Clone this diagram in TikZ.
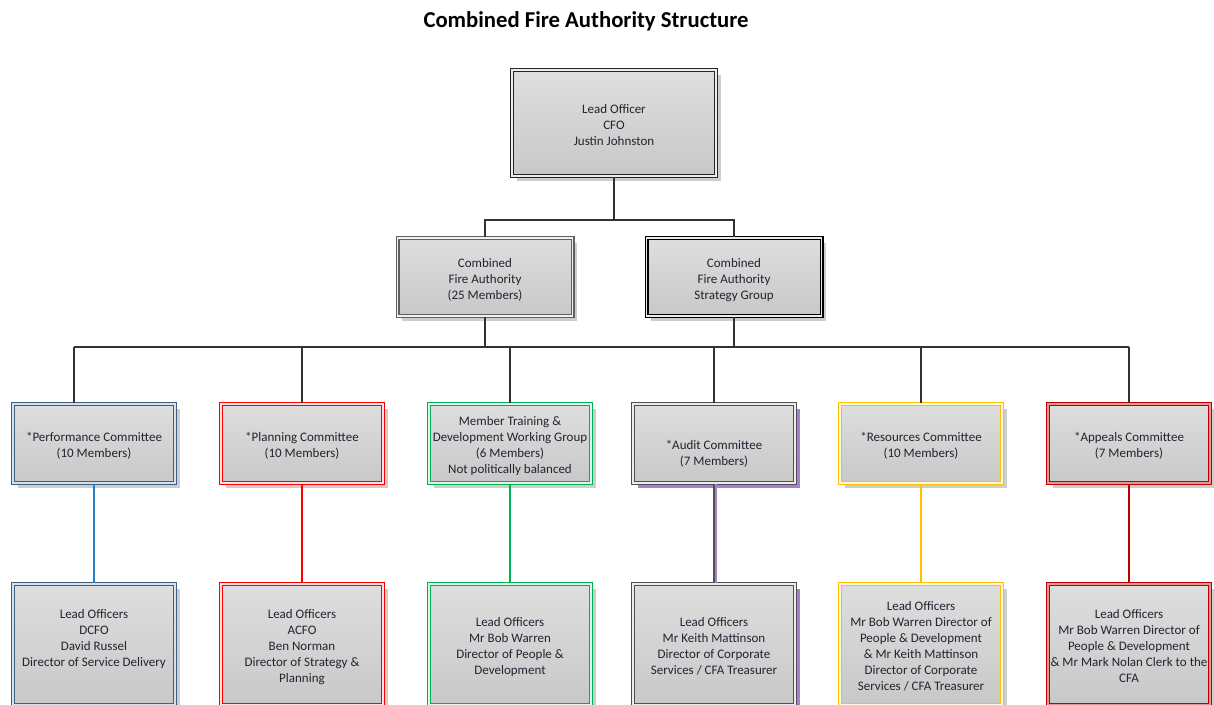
\documentclass[tikz,border=0pt]{standalone}
\usepackage{fontspec}
\setmainfont{Carlito}
\usetikzlibrary{shadows}
\definecolor{txt}{RGB}{35,35,50}
\definecolor{boxtop}{RGB}{222,222,222}
\definecolor{boxbot}{RGB}{200,200,200}
\definecolor{shad}{RGB}{205,205,205}
\definecolor{conncol}{RGB}{50,50,50}
\definecolor{perfb}{RGB}{62,95,132}
\definecolor{perfl}{RGB}{40,128,200}
\definecolor{planr}{RGB}{255,0,0}
\definecolor{trgreen}{RGB}{0,176,80}
\definecolor{auditg}{RGB}{80,80,80}
\definecolor{auditp}{RGB}{168,128,210}
\definecolor{resy}{RGB}{255,192,0}
\definecolor{appr}{RGB}{192,0,0}
\definecolor{appgap}{RGB}{228,150,150}
\newcommand\btxt[1]{\raisebox{-3pt}[\height][\depth]{\begin{tabular}{@{}c@{}}#1\end{tabular}}}
\tikzset{
  obox/.style n args={3}{draw=#1, double=#2, line width=1.1pt, double distance=1.8pt,
    general shadow={fill=#3, shadow xshift=4.5pt, shadow yshift=-4.5pt},
    top color=boxtop, bottom color=boxbot, inner sep=0pt,
    font=\fontsize{13}{16}\selectfont, text=txt},
  conn/.style={draw=conncol, line width=2pt},
  colconn/.style={draw=#1, line width=2pt},
}
\begin{document}
\begin{tikzpicture}[x=1pt,y=-1pt]
\useasboundingbox[fill=white] (0,0) rectangle (1214,704);
\node[font=\fontsize{22.7}{26}\selectfont\bfseries, text=black] (title) at (586,21) {Combined Fire Authority Structure};
% top
\node[obox={black!85}{gray!15}{shad}, minimum width=204pt, minimum height=106pt] (top) at (614,123) {\btxt{Lead Officer\\CFO\\Justin Johnston}};
\node[obox={gray!75!black}{gray!12}{shad}, minimum width=175pt, minimum height=78pt] (cfa) at (485,277) {\btxt{Combined\\Fire Authority\\(25 Members)}};
\node[obox={black}{gray!15}{shad}, minimum width=175pt, minimum height=78pt] (sg) at (734,277) {\btxt{Combined\\Fire Authority\\Strategy Group}};
% committees
\node[obox={perfb}{perfb!20}{shad}, minimum width=162pt, minimum height=79pt] (c1) at (94,443.5) {\btxt{*Performance Committee\\(10 Members)}};
\node[obox={planr}{planr!12}{shad}, minimum width=162pt, minimum height=79pt] (c2) at (302,443.5) {\btxt{*Planning Committee\\(10 Members)}};
\node[obox={trgreen}{trgreen!12}{shad}, minimum width=162pt, minimum height=79pt] (c3) at (510,443.5) {\btxt{Member Training \&\\Development Working Group\\(6 Members)\\Not politically balanced}};
\node[obox={auditg}{gray!15}{auditp}, minimum width=162pt, minimum height=79pt] (c4) at (714,443.5) {\btxt{\mbox{}\\ {*}Audit Committee\\(7 Members)}};
\node[obox={resy}{resy!12}{shad}, minimum width=162pt, minimum height=79pt] (c5) at (921,443.5) {\btxt{*Resources Committee\\(10 Members)}};
\node[obox={appr}{appgap}{shad}, minimum width=162pt, minimum height=79pt] (c6) at (1129,443.5) {\btxt{*Appeals Committee\\(7 Members)}};
% lead officers
\node[obox={perfb}{perfb!20}{shad}, minimum width=162pt, minimum height=121pt] (l1) at (94,644.5) {\btxt{Lead Officers\\DCFO\\David Russel\\Director of Service Delivery\\ \mbox{}}};
\node[obox={planr}{planr!12}{shad}, minimum width=162pt, minimum height=121pt] (l2) at (302,644.5) {\btxt{Lead Officers\\ACFO\\Ben Norman\\Director of Strategy \&\\Planning}};
\node[obox={trgreen}{trgreen!12}{shad}, minimum width=162pt, minimum height=121pt] (l3) at (510,644.5) {\btxt{Lead Officers\\Mr Bob Warren\\Director of People \&\\Development}};
\node[obox={auditg}{gray!15}{auditp}, minimum width=162pt, minimum height=121pt] (l4) at (714,644.5) {\btxt{Lead Officers\\Mr Keith Mattinson\\Director of Corporate\\Services / CFA Treasurer}};
\node[obox={resy}{resy!12}{shad}, minimum width=162pt, minimum height=121pt] (l5) at (921,644.5) {\btxt{Lead Officers\\Mr Bob Warren Director of\\People \& Development\\\& Mr Keith Mattinson\\Director of Corporate\\Services / CFA Treasurer}};
\node[obox={appr}{appgap}{shad}, minimum width=162pt, minimum height=121pt] (l6) at (1129,644.5) {\btxt{Lead Officers\\Mr Bob Warren Director of\\People \& Development\\\& Mr Mark Nolan Clerk to the\\CFA}};
% connectors top
\coordinate (t1) at (614,220);
\draw[conn] (top.south) -- (t1);
\draw[conn] (cfa.north) |- (t1) -| (sg.north);
% bus
\coordinate (bl) at (74,347);
\coordinate (br) at (1129,347);
\draw[conn] (cfa.south) -- (cfa.south |- bl);
\draw[conn] (sg.south) -- (sg.south |- bl);
\draw[conn] (bl) -- (br);
\draw[conn] (bl) -- (bl |- c1.north);
\draw[conn] (c2.north |- bl) -- (c2.north);
\draw[conn] (c3.north |- bl) -- (c3.north);
\draw[conn] (c4.north |- bl) -- (c4.north);
\draw[conn] (c5.north |- bl) -- (c5.north);
\draw[conn] (c6.north |- bl) -- (c6.north);
% committee to lead
\draw[colconn=perfl] (c1.south) -- (l1.north);
\draw[colconn=planr] (c2.south) -- (l2.north);
\draw[colconn=trgreen] (c3.south) -- (l3.north);
\draw[colconn=auditp] ([xshift=2pt]c4.south) -- ([xshift=2pt]l4.north);
\draw[colconn=auditg] (c4.south) -- (l4.north);
\draw[colconn=resy] (c5.south) -- (l5.north);
\draw[colconn=appr] (c6.south) -- (l6.north);
\end{tikzpicture}
\end{document}
